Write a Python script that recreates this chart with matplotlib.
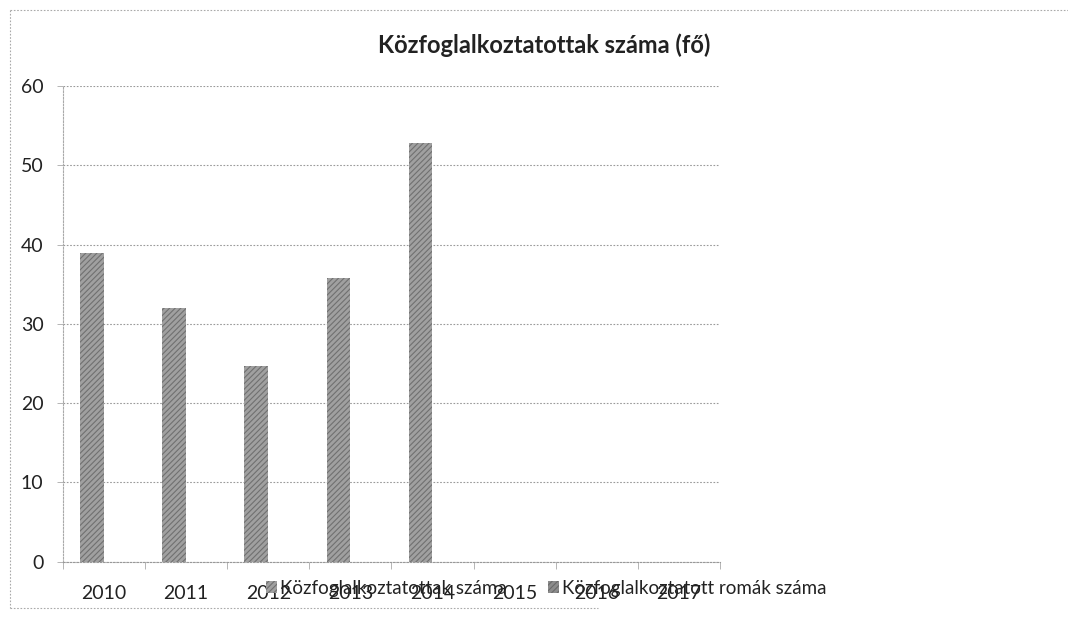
import matplotlib.pyplot as plt
from matplotlib.lines import Line2D
import numpy as np

plt.rcParams['font.family'] = ['Lato', 'DejaVu Sans']
plt.rcParams['hatch.color'] = '#606060'
plt.rcParams['hatch.linewidth'] = 0.8

years = ['2010', '2011', '2012', '2013', '2014', '2015', '2016', '2017']
kozfog = [39, 32, 24.7, 35.8, 52.8, 0, 0, 0]
romak = [0, 0, 0, 0, 0, 0, 0, 0]

fig = plt.figure(figsize=(10.68, 6.2), dpi=100)
ax = fig.add_axes([0.059, 0.094, 0.615, 0.767])

x = np.arange(len(years))
w = 0.29
ax.bar(x - w / 2, kozfog, w, color='#a0a0a0', hatch='//////', edgecolor='#707070',
       linewidth=0, label='Közfoglalkoztatottak száma')
ax.bar(x + w / 2, romak, w, color='#8c8c8c', hatch='//////', edgecolor='#6a6a6a',
       linewidth=0, label='Közfoglalkoztatott romák száma')

ax.set_xlim(-0.5, len(years) - 0.5)
ax.set_ylim(0, 60)
ax.set_yticks(range(0, 61, 10))
ax.set_xticks(x)
ax.set_xticklabels(years)
ax.tick_params(axis='x', length=0, pad=17, labelsize=14, colors='#222222')
ax.tick_params(axis='y', length=4, width=0.6, color='#aaaaaa', labelsize=14,
               labelcolor='#222222', pad=10)
ax.set_xticks(np.arange(-0.5, len(years), 1), minor=True)
ax.tick_params(axis='x', which='minor', length=5, width=0.6, color='#aaaaaa')
ax.yaxis.grid(True, linestyle=(0, (1.5, 1.5)), color='#9a9a9a', linewidth=0.8)
ax.set_axisbelow(True)
for s in ['top', 'right']:
    ax.spines[s].set_visible(False)
ax.spines['left'].set_color('#aaaaaa')
ax.spines['left'].set_linestyle((0, (1.5, 1.5)))
ax.spines['bottom'].set_color('#999999')
ax.spines['bottom'].set_linestyle((0, (1.5, 1.5)))

fig.text(0.51, 0.927, 'Közfoglalkoztatottak száma (fő)', ha='center', va='center',
         fontsize=17, fontweight='bold', color='#222222')

leg = fig.legend(loc='center left', bbox_to_anchor=(0.233, 0.051), ncol=2, frameon=False,
                 fontsize=13.5, handlelength=0.6, handleheight=0.6, handletextpad=0.15,
                 columnspacing=2.2)
for t in leg.get_texts():
    t.set_color('#222222')

# scanned page frame
fig.add_artist(Line2D([0.009, 1.0], [0.984, 0.984], transform=fig.transFigure,
                      color='#aaaaaa', linewidth=0.8, linestyle=(0, (1.5, 1.5))))
fig.add_artist(Line2D([0.009, 0.009], [0.984, 0.02], transform=fig.transFigure,
                      color='#aaaaaa', linewidth=0.8, linestyle=(0, (1.5, 1.5))))
fig.add_artist(Line2D([0.009, 0.56], [0.02, 0.02], transform=fig.transFigure,
                      color='#aaaaaa', linewidth=0.8, linestyle=(0, (1.5, 1.5))))

fig.savefig('out.png', dpi=100)
